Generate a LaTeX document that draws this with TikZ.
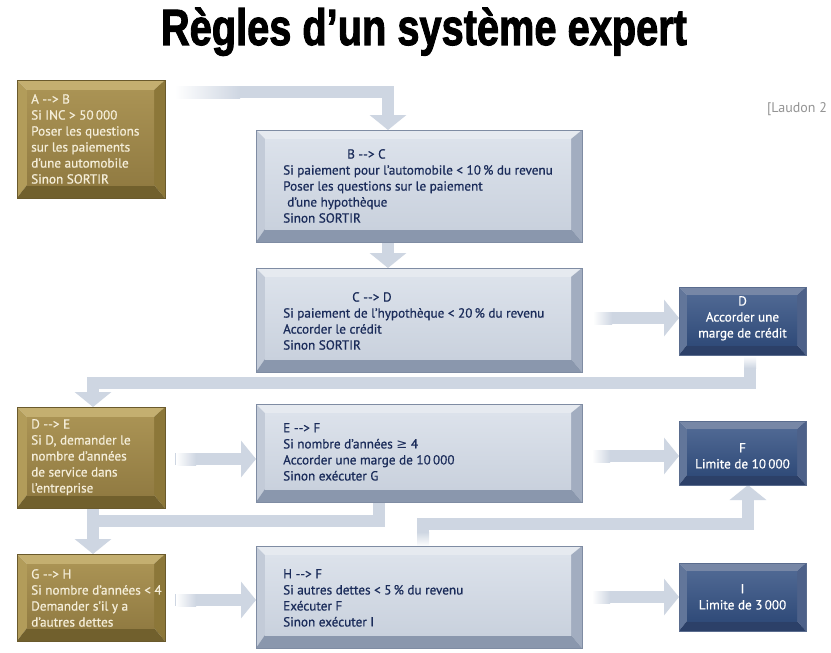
\documentclass[tikz,border=0pt]{standalone}
\usepackage{fontspec}
\setmainfont{PT Sans}[BoldFont={PT Sans}, BoldFeatures={FakeBold=0.7}]
\newfontfamily\titlefont{Liberation Sans Bold}[FakeBold=2.2]
\newfontfamily\symf{DejaVu Sans}
\usetikzlibrary{calc,arrows.meta}
\definecolor{arrowc}{HTML}{CED6E2}
\definecolor{goldT}{HTML}{C4AF70}
\definecolor{goldL}{HTML}{B29C5A}
\definecolor{goldR}{HTML}{8C7739}
\definecolor{goldB}{HTML}{71602D}
\definecolor{goldF1}{HTML}{AA9354}
\definecolor{goldF2}{HTML}{917B42}
\definecolor{goldO}{HTML}{6A5A2C}
\definecolor{lightT}{HTML}{E6EAF0}
\definecolor{lightL}{HTML}{C3CBD8}
\definecolor{lightR}{HTML}{A2ADC0}
\definecolor{lightB}{HTML}{8A97AD}
\definecolor{lightF1}{HTML}{DCE2EB}
\definecolor{lightF2}{HTML}{C9D1DD}
\definecolor{lightO}{HTML}{7F8CA3}
\definecolor{darkT}{HTML}{7787A6}
\definecolor{darkL}{HTML}{62769A}
\definecolor{darkR}{HTML}{4D6189}
\definecolor{darkB}{HTML}{2C4068}
\definecolor{darkF1}{HTML}{4F6893}
\definecolor{darkF2}{HTML}{304B79}
\definecolor{darkO}{HTML}{5A6C8E}
\definecolor{navytext}{HTML}{1B2C5A}
\definecolor{creamtext}{HTML}{F4EDD8}
\newcommand\arr{-{}->}
\newcommand\bevbox[6]{%
  \coordinate (#1-itl) at ($(#1.north west)+(#3,#2)$);
  \coordinate (#1-itr) at ($(#1.north east)+(-#4,#2)$);
  \coordinate (#1-ibl) at ($(#1.south west)+(#3,-#5)$);
  \coordinate (#1-ibr) at ($(#1.south east)+(-#4,-#5)$);
  \fill[#6T] (#1.north west) -- (#1.north east) -- (#1-itr) -- (#1-itl) -- cycle;
  \fill[#6L] (#1.north west) -- (#1-itl) -- (#1-ibl) -- (#1.south west) -- cycle;
  \fill[#6R] (#1.north east) -- (#1.south east) -- (#1-ibr) -- (#1-itr) -- cycle;
  \fill[#6B] (#1.south west) -- (#1-ibl) -- (#1-ibr) -- (#1.south east) -- cycle;
  \shade[top color=#6F1, bottom color=#6F2] (#1-itl) rectangle (#1-ibr);
  \draw[#6O, line width=0.6pt] (#1.north west) rectangle (#1.south east);
}
\begin{document}
\begin{tikzpicture}[x=1pt,y=-1pt,
  boxshape/.style={rectangle, inner sep=0pt, outer sep=0pt, draw=none},
  txt/.style={anchor=north west, inner sep=0pt, align=left,
    font=\fontsize{13.2}{16}\selectfont\bfseries},
  goldtxt/.style={txt, text=creamtext},
  lighttxt/.style={txt, text=navytext},
  darktxt/.style={anchor=north, inner sep=0pt, align=center, text=white,
    font=\fontsize{13.2}{16}\selectfont\bfseries},
  conn/.style={draw=arrowc, line width=12pt, line join=miter,
    -{Triangle[width=36pt,length=15pt]}},
  band/.style={draw=arrowc, line width=12pt, line join=miter}]
\useasboundingbox (0,0) rectangle (831,653);
\fill[white] (0,0) rectangle (831,653);

% title
\node[anchor=base, inner sep=0pt] (title) at (424,45)
  {\resizebox{526pt}{\height}{\titlefont\fontsize{51}{51}\selectfont R\`egles d’un syst\`eme expert}};
\node[anchor=base west, inner sep=0pt, text=black!42, font=\fontsize{14}{15}\selectfont] (ref) at (767,112) {[Laudon 2};

% box nodes
\node[boxshape, minimum width=148pt, minimum height=118pt] (A)  at (91,139) {};
\node[boxshape, minimum width=326pt, minimum height=112pt] (B)  at (419,186) {};
\node[boxshape, minimum width=326pt, minimum height=104pt] (C)  at (419,320) {};
\node[boxshape, minimum width=127pt, minimum height=68pt]  (D)  at (742.5,321) {};
\node[boxshape, minimum width=148pt, minimum height=101pt] (DE) at (91,457.5) {};
\node[boxshape, minimum width=326pt, minimum height=98pt]  (EF) at (419,453) {};
\node[boxshape, minimum width=127pt, minimum height=64pt]  (F)  at (742.5,453) {};
\node[boxshape, minimum width=148pt, minimum height=87pt]  (GH) at (91,597.5) {};
\node[boxshape, minimum width=326pt, minimum height=102pt] (HF) at (419,597) {};
\node[boxshape, minimum width=127pt, minimum height=68pt]  (I)  at (742.5,597) {};

% connectors
\draw[conn] ([xshift=10pt]A.east |- 0,92) -| (388,0 |- B.north);
\shade[left color=white, right color=arrowc] (175,86) rectangle (240,98);
\draw[conn] (388,0 |- B.south) -- (388,0 |- C.north);
\draw[conn] ([xshift=12pt]C.east |- 0,318) -- (D.west |- 0,318);
\shade[left color=white, right color=arrowc] (593,312) rectangle (612,324);
\draw[conn] (750,0 |- D.south) |- (93,383) -- (93,0 |- DE.north);
\shade[top color=white, bottom color=arrowc] (744,356) rectangle (756,368);
\draw[conn] ([xshift=10pt]DE.east |- 0,459) -- (EF.west |- 0,459);
\shade[left color=white, right color=arrowc] (176,453) rectangle (196,465);
\draw[conn] ([xshift=10pt]EF.east |- 0,456) -- (F.west |- 0,456);
\shade[left color=white, right color=arrowc] (592,450) rectangle (610,462);
\draw[band] (379,0 |- EF.south) |- (93,521);
\draw[conn] (93,0 |- DE.south) -- (93,0 |- GH.north);
\draw[conn] (423,0 |- HF.north) |- (748,524) -- (748,0 |- F.south);
\shade[top color=arrowc, bottom color=white] (417,532) rectangle (429,546);
\draw[conn] ([xshift=10pt]GH.east |- 0,600) -- (HF.west |- 0,600);
\shade[left color=white, right color=arrowc] (176,594) rectangle (196,606);
\draw[conn] ([xshift=10pt]HF.east |- 0,597) -- (I.west |- 0,597);
\shade[left color=white, right color=arrowc] (592,591) rectangle (610,603);

% boxes
\bevbox{A}{10}{10}{11}{13}{gold}
\bevbox{DE}{10}{10}{11}{13}{gold}
\bevbox{GH}{10}{10}{11}{13}{gold}
\bevbox{B}{9}{9}{11}{13}{light}
\bevbox{C}{9}{9}{11}{13}{light}
\bevbox{EF}{9}{9}{11}{13}{light}
\bevbox{HF}{9}{9}{11}{13}{light}
\bevbox{D}{8}{8}{9}{10}{dark}
\bevbox{F}{8}{8}{9}{10}{dark}
\bevbox{I}{8}{8}{9}{10}{dark}

% texts
\node[goldtxt] (tA) at (31,94) {A \arr{} B\\Si INC > 50\,000\\Poser les questions\\sur les paiements\\d’une automobile\\Sinon SORTIR};
\node[lighttxt] (tB) at (283,149) {\hspace*{64pt}B \arr{} C\\Si paiement pour l’automobile < 10\,\% du revenu\\Poser les questions sur le paiement\\\hspace*{4pt}d’une hypoth\`eque\\Sinon SORTIR};
\node[lighttxt] (tC) at (283,292) {\hspace*{69pt}C \arr{} D\\Si paiement de l’hypoth\`eque < 20\,\% du revenu\\Accorder le cr\'edit\\Sinon SORTIR};
\node[darktxt] (tD) at (742.5,296) {D\\Accorder une\\marge de cr\'edit};
\node[goldtxt] (tDE) at (31,419) {D \arr{} E\\Si D, demander le\\nombre d’ann\'ees\\de service dans\\l’entreprise};
\node[lighttxt] (tEF) at (283,423) {E \arr{} F\\Si nombre d’ann\'ees {\symf\mdseries ≥} 4\\Accorder une marge de 10\,000\\Sinon ex\'ecuter G};
\node[darktxt] (tF) at (742.5,443) {F\\Limite de 10\,000};
\node[goldtxt] (tGH) at (31,569) {G \arr{} H\\Si nombre d’ann\'ees < 4\\Demander s’il y a\\d’autres dettes};
\node[lighttxt] (tHF) at (283,569) {H \arr{} F\\Si autres dettes < 5\,\% du revenu\\Ex\'ecuter F\\Sinon ex\'ecuter I};
\node[darktxt] (tI) at (742.5,584) {I\\Limite de 3\,000};
\end{tikzpicture}
\end{document}
